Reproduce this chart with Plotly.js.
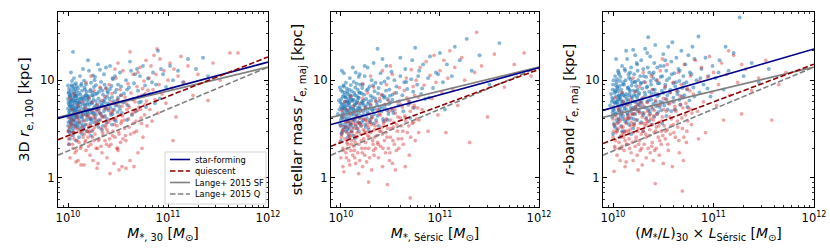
<!DOCTYPE html>
<html><head><meta charset="utf-8">
<script src="https://cdn.plot.ly/plotly-3.0.1.min.js"></script>
<style>html,body{margin:0;padding:0;background:#fff}#chart{width:830px;height:249px}</style>
</head><body><div id="chart"></div>
<script>
// ---- fit / reference relation lines (log10 M at ends, r in kpc) ----
const lineLogM = [9.9, 12];
const sfFit1 = [4.05, 15.3], qFit1 = [2.45, 17.3];
const sfFit2 = [3.5, 13.4],  qFit2 = [2.1, 12.9];
const sfFit3 = [4.9, 20.9],  qFit3 = [2.24, 14.6];
const langeSF = [4.15, 13.6], langeQ = [1.7, 13.6];
const legendNames = ['star-forming', 'quiescent', 'Lange+ 2015 SF', 'Lange+ 2015 Q'];

// ---- scatter points: [log10 M, r (kpc)] ----
const sf1 = [[10.00,4.2],[10.01,5.6],[10.01,3.1],[10.02,6.8],[10.02,4.9],[10.03,7.9],[10.03,3.6],[10.04,5.3],[10.04,8.6],[10.05,2.7],[10.05,4.4],[10.06,6.1],[10.06,3.9],[10.07,5.0],[10.07,7.2],[10.08,4.6],[10.08,9.3],[10.09,3.3],[10.09,5.8],[10.00,6.4],[10.01,7.5],[10.02,3.8],[10.03,5.1],[10.04,4.0],[10.05,6.6],[10.06,2.9],[10.07,4.1],[10.08,6.9],[10.09,4.8],[10.00,3.4],[10.02,5.4],[10.04,6.3],[10.06,5.5],[10.08,3.7],[10.01,4.7],[10.03,6.0],[10.05,5.0],[10.07,8.1],[10.09,7.0],[10.00,8.8],[10.02,2.5],[10.04,3.5],[10.06,7.6],[10.08,5.2],[10.01,3.0],[10.03,4.3],[10.05,3.2],[10.07,6.2],[10.09,4.2],[10.05,19.5],[10.03,12.0],[10.06,10.5],[10.01,2.2],[10.08,2.4],[10.04,9.8],
[10.10,5.3],[10.11,4.1],[10.11,7.4],[10.12,3.2],[10.12,6.0],[10.13,8.8],[10.13,4.6],[10.14,5.7],[10.14,2.8],[10.15,6.7],[10.15,3.9],[10.16,4.9],[10.16,9.9],[10.17,5.5],[10.17,3.5],[10.18,7.1],[10.18,4.4],[10.19,6.3],[10.19,3.0],[10.10,8.2],[10.12,4.9],[10.14,7.8],[10.16,6.2],[10.18,5.1],[10.11,5.9],[10.13,3.6],[10.15,4.5],[10.17,8.0],[10.19,4.8],[10.10,3.4],[10.12,11.0],[10.14,4.2],[10.16,3.3],[10.18,9.1],[10.20,16.0],[10.15,13.0],[10.11,2.6],[10.19,5.6],[10.13,6.5],[10.17,6.9],
[10.20,4.3],[10.21,6.4],[10.21,3.3],[10.22,7.7],[10.22,5.0],[10.23,9.4],[10.23,4.0],[10.24,5.8],[10.24,3.0],[10.25,6.9],[10.25,4.7],[10.26,8.5],[10.26,3.7],[10.27,5.4],[10.27,10.8],[10.28,6.1],[10.28,4.4],[10.29,7.3],[10.29,3.5],[10.20,5.9],[10.22,4.6],[10.24,7.0],[10.26,5.2],[10.28,8.9],[10.21,12.5],[10.23,2.7],[10.25,11.2],[10.27,4.1],[10.29,5.6],[10.30,14.5],
[10.30,5.0],[10.31,7.6],[10.31,3.9],[10.32,6.0],[10.33,4.5],[10.33,9.6],[10.34,5.5],[10.35,3.4],[10.35,7.1],[10.36,4.8],[10.36,11.5],[10.37,6.4],[10.38,5.1],[10.38,8.3],[10.39,4.0],[10.39,6.8],[10.32,12.8],[10.34,3.1],[10.36,5.9],[10.38,13.5],[10.40,7.4],[10.31,5.3],[10.37,4.3],
[10.41,5.6],[10.42,8.1],[10.43,4.4],[10.44,6.7],[10.45,10.2],[10.46,5.0],[10.47,7.5],[10.48,3.8],[10.49,6.2],[10.50,9.0],[10.51,5.4],[10.52,12.0],[10.53,7.0],[10.54,4.6],[10.42,14.0],[10.47,11.0],[10.50,6.6],[10.44,3.5],[10.53,8.6],[10.55,5.9],
[10.56,7.3],[10.58,10.0],[10.60,5.5],[10.61,8.4],[10.63,12.5],[10.65,6.4],[10.66,9.3],[10.68,4.8],[10.70,7.8],[10.72,11.0],[10.73,6.0],[10.75,14.0],[10.77,8.8],[10.78,5.3],[10.80,10.4],[10.62,15.5],[10.69,13.0],[10.59,3.9],
[10.82,7.2],[10.85,12.0],[10.88,9.0],[10.90,20.0],[10.92,6.5],[10.95,11.5],[10.98,8.5],[11.02,14.0],[11.05,10.0],[11.10,12.5],[11.15,9.5],[11.20,16.5],[11.28,13.0],[11.35,17.0],[11.40,11.0],
[10.005,5.9],[10.015,4.5],[10.025,7.0],[10.035,3.9],[10.045,5.7],[10.055,8.3],[10.065,4.7],[10.075,3.4],[10.085,6.5],[10.095,5.4],[10.005,3.7],[10.015,6.9],[10.025,4.1],[10.035,8.9],[10.045,3.0],[10.055,5.2],[10.065,6.8],[10.075,4.4],[10.085,7.7],[10.095,3.6],[10.000,5.1],[10.010,8.1],[10.020,6.0],[10.030,3.3],[10.040,7.3],[10.050,4.8],[10.060,3.5],[10.070,5.9],[10.080,4.2],[10.090,8.6],[10.005,7.4],[10.025,5.5],[10.045,4.3],[10.065,9.0],[10.085,5.0],[10.015,2.9],[10.035,6.3],[10.055,3.8],[10.075,6.9],[10.095,6.2],
[10.105,5.8],[10.115,3.8],[10.125,7.1],[10.135,4.2],[10.145,6.4],[10.155,5.1],[10.165,8.4],[10.175,4.5],[10.185,3.9],[10.195,6.9],[10.205,5.0],[10.215,4.0],[10.225,8.0],[10.235,5.9],[10.245,4.6],[10.105,4.4],[10.125,5.3],[10.145,3.4],[10.165,5.7],[10.185,7.6],[10.205,6.8],[10.225,3.6],[10.245,7.5],[10.115,6.5],[10.135,9.2],[10.155,3.1],[10.175,6.6],[10.195,4.7],[10.215,5.6],[10.235,3.9],
[10.255,6.3],[10.265,4.5],[10.275,7.2],[10.285,5.0],[10.295,3.8],[10.305,6.5],[10.315,4.6],[10.325,8.2],[10.335,5.6],[10.345,4.2],[10.355,6.1],[10.365,9.0],[10.375,5.3],[10.385,3.7],[10.395,7.7],[10.405,4.9],[10.415,6.4],[10.425,5.2],[10.435,8.7],[10.445,4.5],[10.455,6.1],[10.465,3.9],[10.475,5.5],[10.485,8.0],[10.495,4.7],[10.265,10.0],[10.305,3.3],[10.345,7.8],[10.395,5.8],[10.445,10.5],
[10.52,5.0],[10.56,6.0],[10.59,8.0],[10.64,4.4],[10.67,11.5],[10.71,5.9],[10.76,7.0],[10.84,9.5],[10.87,5.8],[10.93,13.0]];

const q1 = [[10.00,3.0],[10.01,2.2],[10.01,4.1],[10.02,1.6],[10.03,3.5],[10.03,2.7],[10.04,5.0],[10.05,2.0],[10.05,3.9],[10.06,2.5],[10.07,4.5],[10.07,1.8],[10.08,3.2],[10.09,2.4],[10.10,5.5],[10.10,1.5],[10.11,3.7],[10.12,2.9],[10.12,4.8],[10.13,2.1],[10.14,3.3],[10.14,6.0],[10.15,2.6],[10.02,6.5],[10.06,7.2],[10.09,4.3],[10.13,1.35],[10.04,2.9],[10.11,2.3],[10.08,1.45],
[10.16,3.8],[10.17,2.3],[10.17,5.2],[10.18,1.9],[10.19,3.0],[10.20,4.4],[10.20,2.6],[10.21,6.6],[10.22,1.7],[10.22,3.4],[10.23,2.2],[10.24,4.9],[10.25,3.1],[10.25,1.5],[10.26,7.8],[10.27,2.8],[10.27,4.0],[10.28,2.0],[10.29,5.6],[10.30,3.6],[10.30,1.4],[10.31,2.5],[10.32,4.6],[10.32,8.5],[10.33,3.2],[10.34,1.8],[10.34,6.2],[10.35,2.7],[10.18,9.5],[10.23,11.0],[10.28,3.7],[10.21,2.9],[10.26,2.4],[10.31,5.0],[10.19,4.2],[10.24,6.0],[10.33,2.1],[10.29,1.25],[10.16,1.35],
[10.36,4.2],[10.37,2.4],[10.37,6.8],[10.38,3.5],[10.39,1.6],[10.40,5.1],[10.40,2.9],[10.41,9.0],[10.42,3.9],[10.42,1.1],[10.43,2.2],[10.44,4.7],[10.44,7.3],[10.45,3.0],[10.46,1.4],[10.46,5.8],[10.47,2.6],[10.48,4.1],[10.48,10.5],[10.49,3.4],[10.50,1.9],[10.50,6.3],[10.51,2.8],[10.52,4.4],[10.52,8.0],[10.53,3.6],[10.54,1.3],[10.54,5.4],[10.55,2.5],[10.55,12.5],[10.38,8.2],[10.43,6.0],[10.47,13.0],[10.51,1.2],[10.39,3.1],[10.45,4.9],[10.49,2.0],[10.53,7.0],[10.41,2.1],[10.50,15.0],
[10.56,3.9],[10.57,6.7],[10.58,2.4],[10.59,5.0],[10.60,9.2],[10.61,3.3],[10.62,1.5],[10.63,7.4],[10.64,4.5],[10.65,11.5],[10.66,2.9],[10.67,6.0],[10.68,3.8],[10.69,8.6],[10.70,1.8],[10.71,5.3],[10.72,13.5],[10.73,4.1],[10.74,7.0],[10.75,2.6],[10.76,9.8],[10.77,5.6],[10.78,16.0],[10.79,3.4],[10.80,7.9],[10.62,19.5],[10.70,12.0],[10.58,1.25],[10.66,1.3],[10.74,2.0],
[10.81,10.5],[10.82,5.0],[10.83,14.0],[10.84,3.8],[10.85,8.0],[10.86,18.0],[10.87,6.3],[10.88,11.5],[10.89,21.0],[10.90,4.6],[10.91,9.0],[10.92,16.5],[10.94,7.2],[10.96,12.5],[10.98,5.8],[11.00,10.0],[11.02,15.0],[11.04,8.3],[11.06,13.0],[11.08,4.2],[11.10,11.0],[11.13,17.5],[11.16,9.5],[11.20,14.0],[11.25,7.0],[11.30,11.5],[11.40,6.2],[11.45,15.0],[11.52,10.0],[11.62,19.0],[11.70,19.0],[11.05,2.4],
[10.005,2.5],[10.025,3.7],[10.045,2.2],[10.065,3.4],[10.085,1.9],[10.105,3.1],[10.125,2.0],[10.145,4.4],[10.165,2.8],[10.185,3.5],[10.205,2.1],[10.225,4.1],[10.245,2.6],[10.265,3.3],[10.285,4.8],[10.305,2.4],[10.325,3.9],[10.345,2.9],[10.365,5.1],[10.385,2.2],[10.405,3.7],[10.425,4.6],[10.445,2.7],[10.465,3.5],[10.485,5.6],[10.505,3.0],[10.525,2.3],[10.545,4.3],[10.565,3.2],[10.585,5.7],[10.605,4.0],[10.625,2.8],[10.645,6.3],[10.665,4.7],[10.685,3.0],[10.705,6.8],[10.725,5.0],[10.745,8.2],[10.765,4.4],[10.785,6.1],[10.015,3.3],[10.055,2.9],[10.095,4.0],[10.135,3.0],[10.175,2.4],[10.215,3.0],[10.255,4.3],[10.295,2.0],[10.335,4.3],[10.375,3.3],[10.415,2.5],[10.455,4.0],[10.495,2.0],[10.535,3.8],[10.575,2.7],[10.615,5.3],[10.655,3.6],[10.695,4.9],[10.735,3.6],[10.775,7.3]];

const sf2 = [[9.97,4.5],[9.98,6.2],[9.99,3.6],[10.00,5.3],[10.00,7.9],[10.01,4.1],[10.01,2.9],[10.02,6.8],[10.02,5.0],[10.03,3.3],[10.03,8.6],[10.04,4.6],[10.04,6.0],[10.05,3.0],[10.05,9.4],[10.06,5.5],[10.06,4.0],[10.07,7.2],[10.07,2.6],[10.08,4.9],[10.08,6.5],[10.09,3.7],[10.09,10.5],[10.00,3.9],[10.02,4.4],[10.04,7.5],[10.06,3.4],[10.08,5.8],[10.01,5.7],[10.03,5.2],[10.05,4.3],[10.07,3.8],[10.09,7.0],[10.00,2.4],[10.03,11.8],[10.06,8.2],[10.08,2.8],[10.02,3.1],[10.04,5.4],[10.07,4.7],[10.09,6.0],[9.99,8.4],[10.05,6.6],[10.01,12.5],[10.08,3.2],
[10.10,5.1],[10.10,3.5],[10.11,7.7],[10.11,4.4],[10.12,6.1],[10.12,2.7],[10.13,9.6],[10.13,5.0],[10.14,3.8],[10.14,7.0],[10.15,4.8],[10.15,12.0],[10.16,5.9],[10.16,3.2],[10.17,8.0],[10.17,4.2],[10.18,6.6],[10.18,10.8],[10.19,3.6],[10.19,5.4],[10.10,8.9],[10.12,4.0],[10.14,5.6],[10.16,6.9],[10.18,4.6],[10.11,3.0],[10.13,6.3],[10.15,3.4],[10.17,5.2],[10.19,7.4],[10.12,13.5],[10.16,9.2],[10.14,2.5],[10.18,3.0],[10.10,6.4],[10.13,4.5],[10.19,11.5],
[10.20,5.0],[10.21,7.3],[10.21,3.7],[10.22,9.0],[10.23,4.4],[10.23,6.2],[10.24,11.0],[10.25,5.3],[10.25,3.3],[10.26,7.9],[10.27,4.7],[10.27,13.5],[10.28,6.0],[10.29,3.9],[10.29,8.6],[10.30,5.5],[10.31,4.2],[10.31,10.0],[10.32,6.7],[10.33,3.6],[10.33,15.0],[10.34,5.1],[10.34,7.7],[10.22,5.8],[10.26,4.1],[10.30,6.9],[10.24,14.0],[10.28,3.1],[10.32,4.9],[10.35,9.4],[10.37,21.0],[10.20,3.4],[10.27,5.7],
[10.36,6.0],[10.37,4.3],[10.38,8.3],[10.39,5.2],[10.40,11.8],[10.41,4.8],[10.42,7.0],[10.43,3.8],[10.44,9.7],[10.45,5.6],[10.46,14.0],[10.47,6.4],[10.48,4.5],[10.49,8.0],[10.50,5.9],[10.51,12.2],[10.52,7.1],[10.53,4.6],[10.54,10.0],[10.38,3.4],[10.42,16.5],[10.47,3.9],[10.52,6.3],[10.44,6.8],
[10.56,8.6],[10.58,5.5],[10.60,11.0],[10.62,7.0],[10.63,4.8],[10.65,13.0],[10.67,8.1],[10.69,6.0],[10.71,10.2],[10.72,16.0],[10.74,5.2],[10.75,21.5],[10.77,9.0],[10.79,12.5],[10.81,7.2],[10.83,14.5],[10.85,6.4],[10.60,17.0],[10.70,4.1],[10.66,9.6],
[10.88,10.5],[10.90,17.5],[10.93,8.3],[10.96,12.0],[11.00,19.0],[11.03,9.5],[11.07,14.5],[11.12,11.0],[11.15,22.0],[11.20,16.0],[11.27,26.5],[11.32,12.5],[11.40,18.0],[11.50,9.0],[11.60,24.0],[11.05,5.0],
[9.985,5.0],[9.995,3.4],[10.005,6.4],[10.015,4.6],[10.025,3.5],[10.035,7.0],[10.045,5.1],[10.055,3.7],[10.065,6.1],[10.075,4.5],[10.085,8.0],[10.095,5.2],[9.995,5.9],[10.005,4.3],[10.015,7.6],[10.025,5.6],[10.035,4.0],[10.045,6.7],[10.055,4.9],[10.065,3.1],[10.075,5.9],[10.085,4.1],[10.095,3.5],[10.005,2.8],[10.025,8.8],[10.045,3.3],[10.065,7.6],[10.085,5.5],[10.015,5.2],[10.055,6.0],
[10.105,4.7],[10.115,6.3],[10.125,3.9],[10.135,5.5],[10.145,8.4],[10.155,4.4],[10.165,6.2],[10.175,3.7],[10.185,5.1],[10.195,9.0],[10.205,4.3],[10.215,6.0],[10.225,3.9],[10.235,7.1],[10.245,5.0],[10.105,6.9],[10.125,5.1],[10.145,4.1],[10.165,4.9],[10.185,7.5],[10.205,5.8],[10.225,4.8],[10.245,3.5],[10.115,3.3],[10.135,7.4],[10.155,5.8],[10.175,6.6],[10.195,4.1],[10.215,8.3],[10.235,5.5],
[10.255,6.4],[10.265,4.5],[10.275,8.1],[10.285,5.1],[10.295,3.7],[10.305,6.2],[10.315,5.0],[10.325,8.8],[10.335,4.5],[10.345,6.5],[10.355,3.9],[10.365,5.6],[10.375,7.3],[10.385,4.9],[10.395,6.1],[10.405,9.3],[10.415,5.3],[10.425,4.0],[10.435,6.6],[10.445,5.1],[10.455,7.8],[10.465,4.9],[10.475,10.5],[10.485,5.7],[10.495,6.9],[10.52,4.9],[10.56,7.4],[10.59,6.1],[10.64,9.5],[10.68,5.6],[10.73,7.6],[10.78,11.0],[10.82,8.2],[10.89,6.6],[10.98,11.5]];

const q2 = [[9.99,2.3],[10.00,3.4],[10.00,1.6],[10.01,2.8],[10.02,4.2],[10.02,2.0],[10.03,3.1],[10.03,1.15],[10.04,2.5],[10.05,3.7],[10.05,1.8],[10.06,2.9],[10.06,5.0],[10.07,2.2],[10.08,3.3],[10.08,1.5],[10.09,4.5],[10.09,2.6],[10.10,3.0],[10.10,1.9],[10.11,3.9],[10.11,2.4],[10.12,5.4],[10.12,1.7],[10.13,3.2],[10.13,2.1],[10.14,4.0],[10.14,2.7],[10.15,1.4],[10.15,3.5],[10.01,4.9],[10.04,6.0],[10.07,3.8],[10.10,6.8],[10.13,4.7],[10.02,1.3],[10.06,2.3],[10.09,1.35],[10.11,2.9],[10.14,1.6],
[10.16,2.6],[10.16,4.3],[10.17,1.8],[10.17,3.2],[10.18,2.2],[10.18,5.8],[10.19,3.6],[10.19,1.5],[10.20,2.8],[10.20,4.8],[10.21,2.0],[10.21,3.4],[10.22,6.5],[10.22,1.3],[10.23,2.5],[10.23,4.0],[10.24,1.7],[10.24,3.0],[10.25,5.2],[10.25,2.3],[10.26,3.8],[10.26,1.45],[10.27,2.7],[10.27,7.4],[10.28,3.3],[10.28,2.0],[10.29,4.5],[10.29,1.6],[10.30,2.9],[10.30,5.7],[10.31,3.5],[10.31,1.2],[10.32,2.4],[10.32,4.2],[10.33,8.5],[10.33,1.9],[10.34,3.1],[10.34,2.6],[10.35,6.1],[10.18,1.1],[10.28,0.9],[10.22,9.2],[10.30,11.0],[10.25,3.9],[10.35,2.0],
[10.36,3.7],[10.37,2.3],[10.37,5.0],[10.38,1.6],[10.39,3.0],[10.40,4.4],[10.40,2.1],[10.41,7.1],[10.42,2.8],[10.42,1.3],[10.43,3.6],[10.44,5.6],[10.44,2.4],[10.45,1.8],[10.46,4.0],[10.46,9.0],[10.47,3.2],[10.48,2.0],[10.48,6.2],[10.49,1.5],[10.50,3.9],[10.50,2.6],[10.51,5.1],[10.52,11.5],[10.52,1.4],[10.53,3.3],[10.54,7.4],[10.54,2.2],[10.55,4.6],[10.56,1.9],[10.57,3.0],[10.57,6.0],[10.58,2.5],[10.59,8.4],[10.60,4.1],[10.42,12.5],[10.47,0.85],[10.55,1.2],[10.39,6.5],[10.50,14.0],
[10.61,3.4],[10.62,5.3],[10.63,2.2],[10.64,7.8],[10.65,4.1],[10.66,10.5],[10.67,2.9],[10.68,6.2],[10.69,1.7],[10.70,4.8],[10.70,0.62],[10.71,12.8],[10.72,3.6],[10.73,8.6],[10.74,5.5],[10.75,2.4],[10.76,10.0],[10.78,6.7],[10.79,3.9],[10.80,13.5],[10.82,5.0],[10.84,8.9],[10.86,15.5],[10.88,3.0],[10.90,11.2],[10.92,6.5],[10.94,18.0],[10.96,9.5],[10.98,4.4],[10.65,1.3],
[11.00,12.5],[11.02,7.5],[11.04,16.0],[11.06,2.9],[11.08,10.5],[11.10,20.0],[11.13,8.0],[11.15,13.5],[11.18,5.5],[11.22,17.0],[11.25,10.0],[11.30,2.3],[11.35,12.0],[11.37,31.0],[11.42,14.0],[11.48,4.2],[11.55,18.5],[11.65,8.5],[11.75,14.5],[11.85,19.0],[11.92,11.0],
[10.005,2.6],[10.025,1.9],[10.045,3.3],[10.065,2.0],[10.085,2.7],[10.105,2.2],[10.125,3.6],[10.145,2.3],[10.165,2.9],[10.185,4.1],[10.205,2.4],[10.225,3.1],[10.245,2.0],[10.265,3.5],[10.285,2.6],[10.305,4.0],[10.325,2.2],[10.345,3.4],[10.365,2.7],[10.385,4.5],[10.405,3.0],[10.425,2.0],[10.445,3.8],[10.465,2.6],[10.485,4.8],[10.505,3.2],[10.525,2.4],[10.545,5.0],[10.565,3.5],[10.585,2.0],[10.605,5.6],[10.625,3.0],[10.645,4.3],[10.665,6.6],[10.685,3.4],[10.705,2.6],[10.725,5.2],[10.745,7.0],[10.765,4.0],[10.785,2.9],[10.015,3.0],[10.055,1.6],[10.095,3.6],[10.135,1.9],[10.175,3.7],[10.215,1.8],[10.255,2.9],[10.295,3.7],[10.335,1.7],[10.375,2.2],[10.415,3.3],[10.455,2.9],[10.495,1.8],[10.535,3.7],[10.575,4.2],[10.615,2.5],[10.655,3.8],[10.695,5.8],[10.735,3.7],[10.775,5.2]];

const sf3 = [[9.97,5.5],[9.98,7.2],[9.99,4.2],[10.00,6.3],[10.00,9.0],[10.01,3.6],[10.01,5.0],[10.02,7.9],[10.02,11.0],[10.03,4.6],[10.03,6.8],[10.04,3.1],[10.04,8.5],[10.05,5.6],[10.05,12.5],[10.06,4.0],[10.06,7.0],[10.07,9.8],[10.07,5.2],[10.08,3.4],[10.08,6.0],[10.09,14.0],[10.09,4.8],[10.00,2.8],[10.02,5.8],[10.04,10.2],[10.06,6.4],[10.08,8.0],[10.01,4.4],[10.03,16.5],[10.05,3.7],[10.07,2.6],[10.09,7.4],[10.00,4.9],[10.04,5.9],[10.08,4.5],[10.02,3.3],[10.06,11.5],[9.99,6.6],[10.03,8.9],[10.07,6.7],[10.09,3.0],[10.05,7.7],
[10.10,6.1],[10.10,4.3],[10.11,9.0],[10.11,5.4],[10.12,12.5],[10.12,3.8],[10.13,7.2],[10.13,5.0],[10.14,16.5],[10.14,4.6],[10.15,8.4],[10.15,6.2],[10.16,3.5],[10.16,10.6],[10.17,5.7],[10.17,7.8],[10.18,13.5],[10.18,4.1],[10.19,6.6],[10.19,9.5],[10.20,5.2],[10.20,3.2],[10.21,11.5],[10.21,7.1],[10.22,4.5],[10.22,18.0],[10.23,8.7],[10.23,6.0],[10.24,3.9],[10.24,14.5],[10.25,5.6],[10.25,10.0],[10.11,3.0],[10.13,20.0],[10.15,4.0],[10.17,12.0],[10.19,5.0],[10.21,3.6],[10.23,7.7],[10.12,6.8],[10.16,8.0],[10.20,20.5],[10.24,6.6],[10.14,5.7],[10.18,2.8],[10.22,9.6],
[10.26,7.4],[10.26,4.8],[10.27,11.0],[10.27,5.9],[10.28,16.0],[10.28,3.7],[10.29,8.2],[10.29,6.5],[10.30,4.4],[10.30,13.0],[10.31,9.6],[10.31,5.3],[10.32,7.0],[10.32,21.0],[10.33,4.1],[10.33,10.8],[10.34,6.0],[10.34,8.6],[10.35,27.5],[10.35,5.0],[10.36,12.0],[10.36,7.6],[10.37,4.5],[10.37,17.5],[10.38,9.0],[10.38,6.3],[10.39,3.5],[10.39,11.5],[10.40,5.7],[10.40,8.0],[10.41,15.0],[10.41,4.2],[10.42,7.3],[10.42,23.0],[10.43,10.0],[10.43,5.4],[10.44,6.8],[10.44,13.5],[10.45,4.7],[10.28,9.4],[10.34,19.0],[10.40,10.5],[10.30,3.0],[10.36,3.8],
[10.46,9.3],[10.47,6.0],[10.47,14.0],[10.48,4.9],[10.49,11.0],[10.50,7.4],[10.50,18.5],[10.51,5.5],[10.52,9.0],[10.53,12.5],[10.53,4.3],[10.54,7.0],[10.55,22.0],[10.55,5.8],[10.56,10.5],[10.57,8.0],[10.58,15.5],[10.58,4.8],[10.59,24.5],[10.60,6.6],[10.61,11.8],[10.62,8.6],[10.62,5.0],[10.63,17.0],[10.64,7.2],[10.65,13.0],[10.66,9.8],[10.67,5.6],[10.68,20.0],[10.69,8.3],[10.70,11.0],[10.52,16.0],[10.60,9.3],[10.66,6.3],[10.49,3.6],
[10.71,7.0],[10.72,14.5],[10.73,9.5],[10.75,18.0],[10.76,6.2],[10.78,11.5],[10.80,8.4],[10.81,16.5],[10.83,10.0],[10.85,28.0],[10.86,7.5],[10.88,13.0],[10.90,9.0],[10.92,17.0],[10.95,11.0],[10.97,6.8],[10.99,14.0],[10.79,22.0],[10.74,5.3],
[11.02,10.5],[11.06,16.0],[11.10,8.0],[11.15,12.5],[11.20,19.0],[11.26,44.0],[11.30,11.0],[11.38,15.0],[11.45,9.5],[11.55,13.0],[11.12,22.0],
[9.985,6.0],[9.995,8.0],[10.005,5.3],[10.015,7.4],[10.025,4.5],[10.035,9.5],[10.045,6.3],[10.055,5.0],[10.065,8.7],[10.075,4.3],[10.085,7.1],[10.095,5.8],[9.995,4.6],[10.005,10.0],[10.015,5.9],[10.025,7.6],[10.035,3.9],[10.045,8.2],[10.055,6.9],[10.065,4.8],[10.075,10.8],[10.085,5.5],[10.095,9.0],[10.015,3.4],[10.035,6.0],[10.055,12.0],[10.075,6.4],[10.095,4.0],
[10.105,7.0],[10.115,5.1],[10.125,10.0],[10.135,6.4],[10.145,4.4],[10.155,11.5],[10.165,7.3],[10.175,5.2],[10.185,8.8],[10.195,6.1],[10.205,4.0],[10.215,9.6],[10.225,6.9],[10.235,5.0],[10.245,12.5],[10.105,9.5],[10.125,5.8],[10.145,8.3],[10.165,4.8],[10.185,6.8],[10.205,7.8],[10.225,5.3],[10.245,8.0],[10.115,13.0],[10.135,3.7],[10.155,6.9],[10.175,10.2],[10.195,4.5],[10.215,6.0],[10.235,15.0],
[10.255,7.1],[10.265,5.5],[10.275,9.2],[10.285,6.0],[10.295,4.6],[10.305,11.0],[10.315,7.5],[10.325,5.2],[10.335,8.4],[10.345,13.5],[10.355,6.2],[10.365,4.8],[10.375,9.8],[10.385,7.3],[10.395,5.1],[10.405,12.0],[10.415,8.0],[10.425,6.0],[10.435,4.5],[10.445,9.3],[10.455,7.0],[10.465,5.3],[10.475,10.8],[10.485,7.8],[10.495,5.9],[10.505,14.0],[10.515,8.3],[10.525,6.4],[10.535,10.0],[10.545,5.0],[10.565,7.5],[10.585,11.5],[10.605,6.0],[10.625,9.5],[10.645,7.7],[10.665,12.5],[10.685,6.8],[10.705,9.2],[10.735,8.0],[10.765,12.0],[10.81,6.8],[10.87,10.5],[10.94,8.2],[11.05,12.0]];

const q3 = [[10.00,2.6],[10.01,3.5],[10.01,1.16],[10.02,2.0],[10.03,4.3],[10.03,2.9],[10.04,1.7],[10.05,3.2],[10.05,5.2],[10.06,2.3],[10.07,3.8],[10.07,1.5],[10.08,2.7],[10.09,4.6],[10.09,2.1],[10.10,3.3],[10.10,6.0],[10.11,1.9],[10.11,2.8],[10.12,4.0],[10.12,2.4],[10.13,3.6],[10.13,1.45],[10.14,5.5],[10.14,2.2],[10.15,3.0],[10.02,6.6],[10.06,4.9],[10.09,7.5],[10.12,1.3],[10.04,3.0],[10.08,2.0],[10.15,4.4],[10.00,4.0],
[10.16,2.5],[10.16,4.1],[10.17,3.1],[10.17,6.3],[10.18,1.8],[10.18,3.7],[10.19,2.3],[10.19,5.0],[10.20,2.9],[10.20,1.5],[10.21,4.5],[10.21,3.4],[10.22,7.6],[10.22,2.1],[10.23,3.9],[10.23,2.6],[10.24,5.6],[10.24,1.7],[10.25,3.2],[10.25,4.8],[10.26,2.4],[10.26,8.6],[10.27,3.6],[10.27,1.9],[10.28,5.2],[10.28,2.8],[10.29,4.2],[10.29,1.35],[10.30,3.0],[10.30,6.6],[10.31,2.2],[10.31,4.6],[10.32,3.4],[10.32,9.5],[10.33,2.6],[10.33,1.6],[10.34,5.9],[10.34,3.8],[10.35,2.0],[10.20,10.5],[10.25,1.2],[10.30,12.0],[10.22,5.3],[10.27,6.0],[10.33,4.0],
[10.36,4.4],[10.36,2.7],[10.37,6.8],[10.37,1.8],[10.38,3.5],[10.38,5.3],[10.39,2.3],[10.39,8.0],[10.40,3.9],[10.40,1.5],[10.41,4.9],[10.41,2.9],[10.42,0.87],[10.42,6.2],[10.43,3.3],[10.43,2.0],[10.44,10.0],[10.44,4.5],[10.45,2.6],[10.45,7.2],[10.46,3.7],[10.46,1.7],[10.47,5.6],[10.47,12.5],[10.48,3.0],[10.48,2.2],[10.49,4.2],[10.50,6.5],[10.50,1.4],[10.51,3.4],[10.52,8.6],[10.52,2.5],[10.53,4.8],[10.54,3.1],[10.54,14.5],[10.55,1.9],[10.56,5.7],[10.57,2.8],[10.57,7.5],[10.58,4.0],[10.59,1.3],[10.60,9.5],[10.60,3.5],[10.38,11.0],[10.49,16.5],
[10.61,5.0],[10.62,2.6],[10.63,7.8],[10.64,3.8],[10.65,12.0],[10.66,1.8],[10.67,5.6],[10.68,9.0],[10.69,0.73],[10.69,3.2],[10.70,6.6],[10.71,14.5],[10.72,4.4],[10.73,2.3],[10.74,8.2],[10.75,5.2],[10.77,11.0],[10.78,3.5],[10.80,7.2],[10.82,16.0],[10.84,4.8],[10.86,9.8],[10.88,13.5],[10.90,6.0],[10.92,2.9],[10.94,10.8],[10.96,17.5],[10.98,7.5],[10.70,1.5],[10.85,2.5],
[11.00,12.0],[11.03,5.5],[11.05,9.0],[11.08,15.0],[11.10,3.9],[11.13,11.5],[11.16,7.0],[11.20,18.0],[11.24,9.5],[11.28,4.5],[11.32,13.0],[11.38,7.8],[11.45,10.5],[11.52,16.0],[11.58,3.9],[11.65,9.0],[11.72,12.0],[11.28,14.5],[11.15,20.0],
[10.005,3.0],[10.025,2.4],[10.045,3.6],[10.065,2.0],[10.085,3.3],[10.105,2.6],[10.125,3.0],[10.145,4.1],[10.165,2.0],[10.185,4.5],[10.205,3.5],[10.225,2.4],[10.245,3.0],[10.265,4.6],[10.285,2.0],[10.305,3.6],[10.325,2.8],[10.345,4.8],[10.365,3.1],[10.385,2.1],[10.405,4.3],[10.425,3.0],[10.445,5.5],[10.465,2.4],[10.485,3.8],[10.505,5.0],[10.525,3.0],[10.545,2.2],[10.565,4.2],[10.585,6.0],[10.605,2.9],[10.625,4.8],[10.645,3.3],[10.665,6.9],[10.685,4.1],[10.705,2.6],[10.725,5.8],[10.745,3.8],[10.765,7.8],[10.785,4.6],[10.015,2.1],[10.055,4.0],[10.095,2.9],[10.135,2.2],[10.175,3.4],[10.215,5.0],[10.255,2.2],[10.295,5.6],[10.335,3.6],[10.375,4.0],[10.415,1.9],[10.455,3.4],[10.495,2.7],[10.535,6.3],[10.575,3.4],[10.615,5.4],[10.655,2.4],[10.695,5.2],[10.735,3.0],[10.775,5.0]];

// ---- axis labels / ticks ----
const xTickVals = [1e10, 1e11, 1e12];
const xTickText = ['10<sup>10</sup>', '10<sup>11</sup>', '10<sup>12</sup>'];
const yTickVals = [1, 10];
const yTickText = ['1', '10'];
const xTitles = [
  '<i>M</i><sub>*, 30</sub> [<i>M</i><sub>\u2299</sub>]',
  '<i>M</i><sub>*, Sérsic</sub> [<i>M</i><sub>\u2299</sub>]',
  '(<i>M</i><sub>*</sub>/<i>L</i>)<sub>30</sub> × <i>L</i><sub>Sérsic</sub> [<i>M</i><sub>\u2299</sub>]'
];
const yTitles = [
  '3D <i>r</i><sub>e, 100</sub> [kpc]',
  'stellar mass <i>r</i><sub>e, maj</sub> [kpc]',
  '<i>r</i>-band <i>r</i><sub>e, maj</sub> [kpc]'
];

// ---- build ----
const W = 830, H = 249;
const panelsPx = [[58, 268], [331, 539], [603, 814]];
const yPx = [12, 207];
const FONT = 'DejaVu Sans, Liberation Sans, sans-serif';
const pow10 = v => Math.pow(10, v);

const minorX = [], minorY = [];
[1e9, 1e10, 1e11].forEach(d => { for (let k = 2; k <= 9; k++) minorX.push(k * d); });
[0.1, 1, 10].forEach(d => { for (let k = 2; k <= 9; k++) minorY.push(k * d); });

const panels = [
  {sf: sf1, q: q1, sfFit: sfFit1, qFit: qFit1},
  {sf: sf2, q: q2, sfFit: sfFit2, qFit: qFit2},
  {sf: sf3, q: q3, sfFit: sfFit3, qFit: qFit3}
];
const lineStyles = [
  {color: '#00008b', dash: 'solid'},
  {color: '#8b0000', dash: '5.5px,2.4px'},
  {color: '#808080', dash: 'solid'},
  {color: '#808080', dash: '5.5px,2.4px'}
];

const traces = [];
const shapes = [];
const annotations = [];
const layout = {
  width: W, height: H,
  margin: {l: 0, r: 0, t: 0, b: 0},
  paper_bgcolor: '#fff', plot_bgcolor: '#fff',
  font: {family: FONT, color: '#000'},
  showlegend: false, shapes: shapes, annotations: annotations
};

panels.forEach((p, i) => {
  const sfx = i === 0 ? '' : String(i + 1);
  const xa = 'x' + sfx, ya = 'y' + sfx;
  traces.push({
    type: 'scatter', mode: 'markers', xaxis: xa, yaxis: ya, hoverinfo: 'skip', name: 'star-forming galaxies',
    x: p.sf.map(d => pow10(d[0])), y: p.sf.map(d => d[1]),
    marker: {size: 3.9, color: 'rgba(31,119,180,0.55)', line: {width: 0}}
  });
  traces.push({
    type: 'scatter', mode: 'markers', xaxis: xa, yaxis: ya, hoverinfo: 'skip', name: 'quiescent galaxies',
    x: p.q.map(d => pow10(d[0])), y: p.q.map(d => d[1]),
    marker: {size: 3.7, color: 'rgba(214,39,40,0.42)', line: {width: 0}}
  });
  const lx = lineLogM.map(pow10);
  const ys = [p.sfFit, p.qFit, langeSF, langeQ];
  [2, 3, 0, 1].forEach(k => {
    traces.push({
      type: 'scatter', mode: 'lines', xaxis: xa, yaxis: ya, hoverinfo: 'skip',
      x: lx, y: ys[k], name: legendNames[k],
      line: {color: lineStyles[k].color, width: 1.6, dash: lineStyles[k].dash}
    });
  });

  const common = {
    type: 'log', showgrid: false, zeroline: false,
    showline: true, linecolor: '#000', linewidth: 1, mirror: 'allticks',
    ticks: 'inside', ticklen: 4, tickwidth: 1, tickcolor: '#000',
    tickfont: {size: 11.5, family: FONT, color: '#000'}
  };
  const minor = {ticks: 'inside', ticklen: 2, tickwidth: 0.8, tickcolor: '#000', tickmode: 'array'};
  layout['xaxis' + sfx] = Object.assign({}, common, {
    domain: [panelsPx[i][0] / W, panelsPx[i][1] / W], anchor: ya,
    range: [9.9, 12], tickmode: 'array', tickvals: xTickVals, ticktext: xTickText,
    minor: Object.assign({}, minor, {tickvals: minorX}),
    title: {text: xTitles[i], font: {size: 14, family: FONT, color: '#000'}, standoff: 4}
  });
  layout['yaxis' + sfx] = Object.assign({}, common, {
    domain: [1 - yPx[1] / H, 1 - yPx[0] / H], anchor: xa,
    range: [Math.log10(0.5), Math.log10(50)], tickmode: 'array', tickvals: yTickVals, ticktext: yTickText,
    minor: Object.assign({}, minor, {tickvals: minorY}),
    title: {text: yTitles[i], font: {size: 14.5, family: FONT, color: '#000'}, standoff: 6}
  });
});

// ---- legend box (panel 1, lower right) ----
const lg = {x0: 165, x1: 266, y0: 152, y1: 204, sx0: 170, sx1: 190, tx: 193, rows: [159.5, 171, 182.5, 194]};
shapes.push({type: 'rect', xref: 'paper', yref: 'paper', layer: 'above',
  x0: lg.x0 / W, x1: lg.x1 / W, y0: 1 - lg.y1 / H, y1: 1 - lg.y0 / H,
  line: {color: '#d5d5d5', width: 1}, fillcolor: 'rgba(255,255,255,0.85)'});
legendNames.forEach((name, k) => {
  const yy = 1 - lg.rows[k] / H;
  shapes.push({type: 'line', xref: 'paper', yref: 'paper', layer: 'above',
    x0: lg.sx0 / W, x1: lg.sx1 / W, y0: yy, y1: yy,
    line: {color: lineStyles[k].color, width: 1.6, dash: lineStyles[k].dash}});
  annotations.push({xref: 'paper', yref: 'paper', x: lg.tx / W, y: yy, xanchor: 'left', yanchor: 'middle',
    text: name, showarrow: false, font: {size: 8.3, family: FONT, color: '#000'}});
});

Plotly.newPlot('chart', traces, layout, {displayModeBar: false, staticPlot: true});
</script>
</body></html>
